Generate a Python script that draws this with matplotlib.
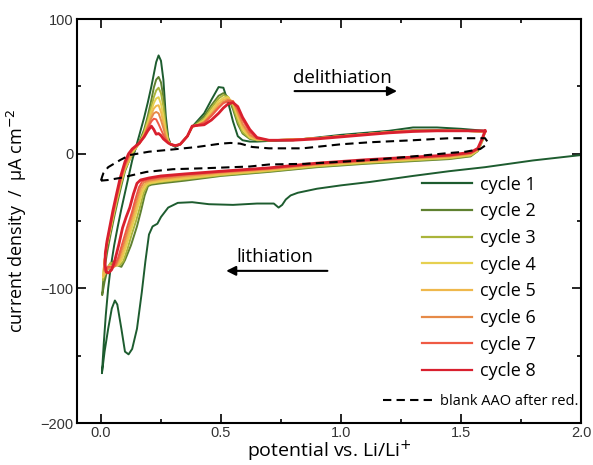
import matplotlib
matplotlib.use("Agg")
import matplotlib.pyplot as plt
from matplotlib.lines import Line2D

# colours and labels
cycle_colors = ["#1d5c2f", "#5f8130", "#aab43a", "#e6d050",
                "#efb84c", "#e68a48", "#ef5a44", "#d9202e"]
cycle_labels = ["cycle 1", "cycle 2", "cycle 3", "cycle 4",
                "cycle 5", "cycle 6", "cycle 7", "cycle 8"]

# cycle 1, first cathodic sweep from 2.0 V (V, I)
c1_cath_V = [2.0, 1.8, 1.6, 1.45, 1.3, 1.12, 1.0, 0.9, 0.82, 0.79, 0.77, 0.755, 0.74,
             0.72, 0.65, 0.55, 0.45, 0.38, 0.32, 0.28, 0.25, 0.235, 0.215, 0.2, 0.185,
             0.17, 0.15, 0.13, 0.115, 0.1, 0.085, 0.068, 0.058, 0.045, 0.03, 0.015, 0.004]
c1_cath_I = [-1, -5, -10, -13, -16.5, -21, -23.5, -26, -29, -31, -34, -38, -40,
             -37, -37, -38, -37.5, -36, -36.5, -40, -47, -52, -54, -60, -80,
             -103, -130, -145, -149, -147, -130, -112, -109, -115, -130, -147, -163]
# cycle 1 anodic start (V, I)
c1_low_V = [0.004, 0.012, 0.02, 0.03, 0.04, 0.055, 0.07, 0.085, 0.1, 0.115]
c1_low_I = [-163, -140, -120, -100, -85, -68, -54, -41, -29, -17]

# shared anodic potential grid (cycles 1-8 above 0.13 V)
VA = [0.13, 0.16, 0.18, 0.195, 0.21, 0.22, 0.23, 0.24, 0.25, 0.26, 0.27, 0.28, 0.29,
      0.31, 0.33, 0.36, 0.38, 0.40, 0.43, 0.46, 0.49, 0.51, 0.53, 0.55, 0.57, 0.59,
      0.62, 0.65, 0.7, 0.8, 0.9, 1.0, 1.1, 1.2, 1.3, 1.4, 1.5, 1.6]
anodic_I = [
    [-5, 14, 27, 38, 50, 59, 68, 73, 69, 55, 28, 12, 7,
     5, 7, 13, 20, 24, 30, 40, 49.5, 49, 38, 24, 13, 10,
     9, 9, 9.5, 10, 12, 14, 15.5, 17, 19.5, 19.5, 18.5, 17],
    [-1, 9, 18, 28, 40, 49, 55, 57, 53, 42, 22, 11, 7,
     6, 7, 13, 20, 23, 28, 36, 43, 45, 42, 33, 22, 15,
     11, 10, 10, 10.5, 11.5, 13, 14.5, 16, 17.5, 17.5, 17, 16.5],
    [0, 8, 16, 25, 35, 42, 47, 49, 45, 35, 19, 10, 7,
     6, 7, 13, 20, 22, 26, 34, 41, 43.5, 42, 35, 24, 16,
     11.5, 10, 10, 10.5, 11.5, 13, 14.5, 16, 17, 17, 17, 16.5],
    [1, 7.5, 15, 23, 32, 37.5, 41, 42, 37, 28, 16, 9, 7,
     6, 7, 13, 20, 21.5, 25, 32, 39, 41.5, 42, 37, 27, 18,
     12, 10.5, 10, 10.5, 11.5, 13, 14.5, 16, 17, 17, 17, 16.5],
    [2, 7.5, 14, 21, 29, 33.5, 35.5, 36, 31, 23, 14, 9, 7,
     6, 7, 13, 20, 21, 24, 30, 37, 40, 41, 38, 29, 20,
     13, 10.5, 10, 10.5, 11.5, 13, 14.5, 16, 17, 17, 17, 16.5],
    [2.5, 7.5, 13.5, 20, 26.5, 30, 31, 30, 25, 19, 12, 8.5, 7,
     6, 7, 13, 20, 21, 23.5, 29, 35, 38.5, 40, 39, 31, 22,
     14, 11, 10, 10.5, 11.5, 13, 14.5, 16, 17, 17, 17, 16.5],
    [3, 7.5, 13, 19, 24, 26, 25.5, 22, 18, 14, 10.5, 8, 7,
     6, 7, 13, 20.5, 21, 23, 28, 34, 37.5, 39, 39, 33, 25,
     16, 11.5, 10, 10.5, 11.5, 13, 14.5, 16, 17, 17, 17, 16.5],
    [3.5, 8, 12.5, 17, 20.5, 18, 14.5, 15, 13.5, 11, 9.5, 8, 7,
     6, 7, 13, 20.5, 21, 21.5, 25, 30, 34, 37, 38, 35, 27,
     18, 12, 10, 10, 11, 12.5, 14, 15.5, 16.5, 17, 17, 17],
]

# shared cathodic potential grid (cycles 2-8, 1.6 V down to 0.25 V)
VC = [1.6, 1.59, 1.57, 1.54, 1.45, 1.3, 1.1, 0.9, 0.7, 0.5, 0.35, 0.25]
cathodic_I = [
    [16.5, 10, 2, -2, -4, -5.5, -7.5, -10, -13.5, -16.5, -20, -22],
    [16, 10, 2, -1.5, -3.5, -5, -7, -9.5, -13, -16, -19, -21],
    [16.5, 10.5, 2.5, -1, -3, -4.5, -6.5, -9, -12.5, -15.5, -18.5, -20.5],
    [16.5, 10.5, 3, -0.5, -2.5, -4, -6, -8.5, -12, -15, -17.5, -19.5],
    [16.5, 11, 3, 0, -2, -3.5, -5.5, -8, -11.5, -14, -16.5, -18.5],
    [16.5, 11, 3.5, 0.5, -1.5, -3, -5, -7.5, -11, -13.5, -15.5, -17.5],
    [17, 12, 4, 1, -1, -2.5, -4.5, -7, -10.5, -13, -15, -16.5],
]

# low-potential turn (below 0.25 V), cathodic part then anodic part, cycles 2-8
low_cath_V = [
    [0.21, 0.196, 0.182, 0.166, 0.15, 0.125, 0.1, 0.085, 0.07, 0.05, 0.03, 0.015, 0.005],
    [0.21, 0.193, 0.178, 0.162, 0.146, 0.128, 0.11, 0.093, 0.077, 0.058, 0.04, 0.022, 0.008],
    [0.2, 0.19, 0.173, 0.158, 0.142, 0.125, 0.105, 0.087, 0.07, 0.052, 0.035, 0.018, 0.008],
    [0.2, 0.184, 0.168, 0.153, 0.137, 0.12, 0.1, 0.082, 0.066, 0.05, 0.033, 0.018, 0.01],
    [0.2, 0.178, 0.163, 0.148, 0.132, 0.115, 0.095, 0.077, 0.062, 0.048, 0.033, 0.02],
    [0.2, 0.172, 0.158, 0.143, 0.128, 0.11, 0.09, 0.072, 0.058, 0.045, 0.03, 0.02],
    [0.2, 0.165, 0.15, 0.135, 0.12, 0.105, 0.09, 0.075, 0.058, 0.045, 0.032],
]
low_cath_I = [
    [-23, -24, -31, -43, -54, -68, -79, -84, -83, -80, -84, -95, -105],
    [-22, -23.5, -29, -40, -50, -60, -71, -80, -83, -82, -81, -86, -94],
    [-22, -23, -28, -37, -47, -57, -69, -79, -83, -83, -83, -88, -92],
    [-21, -22.5, -27, -36, -46, -56, -68, -78, -83, -84, -84, -88, -91],
    [-20, -21.5, -26, -35, -45, -55, -67, -77, -83, -85, -85, -87],
    [-19, -20.5, -25, -34, -44, -54, -66, -77, -83, -84, -84, -86],
    [-18, -19.5, -22, -30, -40, -47, -55, -67, -79, -86, -88.5],
]
low_an_V = [
    [0.005, 0.009, 0.016, 0.027, 0.04, 0.055, 0.07, 0.086, 0.1, 0.12],
    [0.008, 0.013, 0.022, 0.035, 0.05, 0.066, 0.082, 0.1, 0.12],
    [0.008, 0.014, 0.022, 0.036, 0.05, 0.066, 0.082, 0.1, 0.12],
    [0.01, 0.015, 0.023, 0.036, 0.05, 0.066, 0.082, 0.1, 0.12],
    [0.013, 0.015, 0.023, 0.036, 0.05, 0.066, 0.082, 0.1, 0.118],
    [0.014, 0.016, 0.024, 0.036, 0.05, 0.066, 0.082, 0.1, 0.117],
    [0.022, 0.017, 0.018, 0.025, 0.037, 0.05, 0.066, 0.08, 0.1, 0.115],
]
low_an_I = [
    [-105, -95, -84, -72, -60, -47, -35, -23, -13, -4],
    [-94, -83, -71, -60, -48, -35, -23, -12, -4],
    [-92, -81, -70, -59, -47, -34, -22, -11, -4],
    [-91, -80, -69, -58, -46, -33, -21, -10, -3],
    [-87, -79, -68, -57, -45, -32, -20, -9, -2],
    [-86, -78, -67, -56, -44, -31, -19, -8, -1],
    [-88, -82, -74, -65, -54, -42, -29, -18, -6, 0],
]

# blank AAO after reduction (dashed)
blank_an_V = [0.0, 0.005, 0.01, 0.03, 0.08, 0.12, 0.2, 0.29, 0.4, 0.5, 0.54, 0.58,
              0.63, 0.7, 0.84, 1.0, 1.12, 1.3, 1.45, 1.6]
blank_an_I = [-20, -17, -14.5, -10, -4.7, -1, 1.5, 3, 5, 7.5, 8, 7.5,
              5, 4, 4, 7, 8.5, 10, 11.5, 11.5]
blank_cat_V = [1.61, 1.6, 1.58, 1.52, 1.45, 1.3, 1.12, 1.0, 0.85, 0.7, 0.62, 0.43,
               0.3, 0.19, 0.08, 0.03, 0.0]
blank_cat_I = [9, 6, 3.5, 1.5, 0.5, -2, -4.7, -6, -7.5, -8, -9.5, -10.8,
               -11.5, -13.5, -18, -19.5, -20]

fig = plt.figure(figsize=(5.93, 4.65), dpi=100)
ax = fig.add_axes([0.1298, 0.0903, 0.85, 0.8687])

# cycle 1
v1 = c1_cath_V + c1_low_V + VA
i1 = c1_cath_I + c1_low_I + anodic_I[0]
ax.plot(v1, i1, color=cycle_colors[0], lw=1.4, solid_joinstyle="round")

# cycles 2..8
for k in range(1, 8):
    prev_an = anodic_I[k - 1]
    v = [VA[-1]] + VC + low_cath_V[k - 1] + low_an_V[k - 1] + VA
    i = [prev_an[-1]] + cathodic_I[k - 1] + low_cath_I[k - 1] + low_an_I[k - 1] + anodic_I[k]
    lw = 2.0 if k == 7 else 1.4
    ax.plot(v, i, color=cycle_colors[k], lw=lw, solid_joinstyle="round")

ax.plot(blank_an_V + blank_cat_V, blank_an_I + blank_cat_I, color="black",
        lw=1.5, dashes=(4, 2.5))

ax.set_xlim(-0.1, 2.0)
ax.set_ylim(-200, 100)
ax.set_xticks([0.0, 0.5, 1.0, 1.5, 2.0])
ax.set_xticks([0.25, 0.75, 1.25, 1.75], minor=True)
ax.set_yticks([-200, -100, 0, 100])
ax.set_yticks([-150, -50, 50], minor=True)
ax.set_xticklabels(["0.0", "0.5", "1.0", "1.5", "2.0"], family="Liberation Sans",
                   fontsize=10.5, color="#333333")
ax.set_yticklabels(["\u2212200", "\u2212100", "0", "100"], family="Liberation Sans",
                   fontsize=10.5, color="#333333")
ax.tick_params(which="both", direction="in", top=True, right=True, width=1.2)
ax.tick_params(which="major", length=6.5, pad=2.5)
ax.tick_params(which="minor", length=3)
for s in ax.spines.values():
    s.set_linewidth(1.5)

lab_font = "Open Sans"
ax.set_xlabel("potential vs. Li/Li$^{+}$", family=lab_font, fontsize=14, labelpad=-1)
ax.set_ylabel("current density  /  \u00b5A cm$^{-2}$", family=lab_font, fontsize=13,
              labelpad=8)

ax.text(0.80, 52.5, "delithiation", family=lab_font, fontsize=13.5)
ax.annotate("", xy=(1.245, 46.5), xytext=(0.795, 46.5),
            arrowprops=dict(arrowstyle="-|>", color="black", lw=1.5, mutation_scale=14))
ax.text(0.565, -77, "lithiation", family=lab_font, fontsize=13.5, va="center")
ax.annotate("", xy=(0.51, -87), xytext=(0.955, -87),
            arrowprops=dict(arrowstyle="-|>", color="black", lw=1.5, mutation_scale=14))

handles = [Line2D([], [], color=c, lw=1.6) for c in cycle_colors]
leg = ax.legend(handles, cycle_labels, loc="upper left", bbox_to_anchor=(0.684, 0.612),
                frameon=False, prop={"family": lab_font, "size": 13},
                handlelength=2.8, handletextpad=0.4, labelspacing=0.48,
                borderaxespad=0, borderpad=0)
ax.add_artist(leg)
blank_handle = Line2D([], [], color="black", lw=1.5, dashes=(4, 2.5))
ax.legend([blank_handle], ["blank AAO after red."], loc="lower right",
          bbox_to_anchor=(0.995, 0.035), frameon=False,
          prop={"family": lab_font, "size": 10.5}, handlelength=3.4,
          handletextpad=0.5, borderaxespad=0, borderpad=0)

fig.savefig("out.png", dpi=100)
